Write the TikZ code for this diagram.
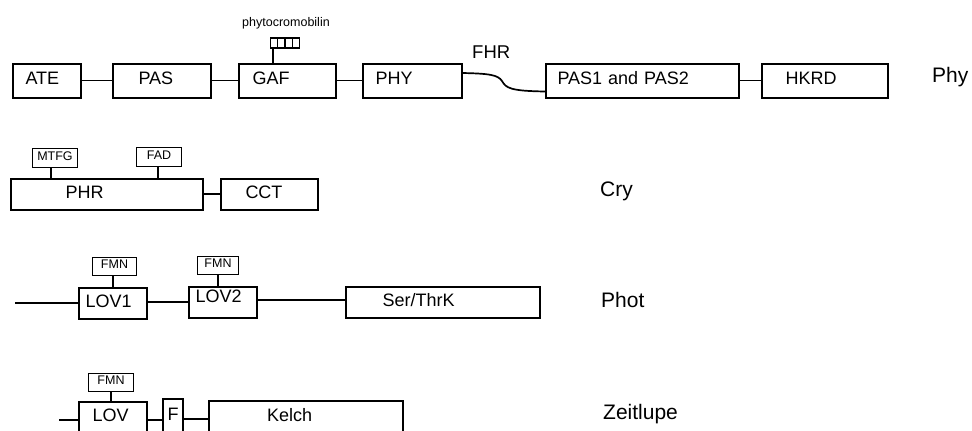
\documentclass[tikz,border=0pt]{standalone}
\usepackage{fontspec}
\setmainfont{Liberation Sans}
\usetikzlibrary{calc}
\begin{document}
\begin{tikzpicture}[x=1pt,y=-1pt,
  dom/.style={draw, line width=2pt, rectangle, inner ysep=0pt, outer sep=0pt, align=left, text height=13pt, text depth=4.1pt, font=\fontsize{18}{20}\selectfont},
  tag/.style={draw, line width=1.5pt, rectangle, inner sep=0pt, outer sep=0pt, text height=9pt, text depth=4.5pt, font=\fontsize{12.5}{14}\selectfont},
  link/.style={line width=1.7pt},
  lbl/.style={anchor=base west, inner sep=0pt, font=\fontsize{21}{24}\selectfont},
  small/.style={anchor=base west, inner sep=0pt, font=\fontsize{12.5}{14}\selectfont}]
\useasboundingbox (0,0) rectangle (972,431);
\clip (0,0) rectangle (972,431);

% ---------- Phy ----------
\node[dom, minimum width=68pt, minimum height=34pt, text width=42pt, inner xsep=13pt] (ATE) at (46.5,80.5) {ATE};
\node[dom, minimum width=98pt, minimum height=34pt, text width=46pt, inner xsep=26pt] (PAS) at (161.5,80.5) {PAS};
\node[dom, minimum width=97pt, minimum height=34pt, text width=69pt, inner xsep=14pt] (GAF) at (287,80.5) {GAF};
\node[dom, minimum width=99pt, minimum height=34pt, text width=73pt, inner xsep=13pt] (PHY) at (412,80.5) {PHY};
\node[dom, minimum width=193pt, minimum height=34pt, text width=169pt, inner xsep=12pt] (PAS12) at (642,80.5) {PAS1 and PAS2};
\node[dom, minimum width=126pt, minimum height=34pt, text width=78pt, inner xsep=24pt] (HKRD) at (824.5,80.5) {HKRD};
\node[draw, line width=1.5pt, rectangle, inner sep=0pt, outer sep=0pt, minimum width=29pt, minimum height=10pt] (chromo) at (285,43) {};
\foreach \f in {0.25,0.5,0.75}
  \draw[line width=1.3pt] ($(chromo.north west)!\f!(chromo.north east)$) -- ($(chromo.south west)!\f!(chromo.south east)$);
\node[small] (phyto) at (242,26) {phytocromobilin};
\node[anchor=base west, inner sep=0pt, font=\fontsize{18.5}{20}\selectfont] (FHR) at (472,58.5) {FHR};
\node[lbl] (Phy) at (932,82.5) {Phy};

\draw[link] (ATE.east) -- (PAS.west);
\draw[link] (PAS.east) -- (GAF.west);
\draw[link] (GAF.east) -- (PHY.west);
\draw[link] (PAS12.east) -- (HKRD.west);
\draw[link] ([xshift=-12pt]chromo.south) -- ([xshift=-12pt]chromo.south |- GAF.north);
\draw[link] ([yshift=7.5pt]PHY.east) .. controls (490,73.5) and (498,75) .. (502,81)
  .. controls (506,88) and (510,91) .. ([yshift=-11pt]PAS12.west);

% ---------- Cry ----------
\node[dom, minimum width=192pt, minimum height=31pt, text width=82pt, inner xsep=55pt] (PHR) at (106.5,194) {PHR};
\node[dom, minimum width=97pt, minimum height=31pt, text width=47pt, inner xsep=25pt] (CCT) at (269,194) {CCT};
\node[tag, minimum width=45pt, minimum height=19pt] (MTFG) at (55,158) {MTFG};
\node[tag, minimum width=45pt, minimum height=19pt] (FAD) at (159,157) {FAD};
\node[lbl] (Cry) at (600,196.5) {Cry};
\draw[link] (PHR.east) -- (CCT.west);
\draw[link] ([xshift=-4pt]MTFG.south) -- ([xshift=-4pt]MTFG.south |- PHR.north);
\draw[link] ([xshift=-1pt]FAD.south) -- ([xshift=-1pt]FAD.south |- PHR.north);

% ---------- Phot ----------
\node[dom, minimum width=68pt, minimum height=31pt, text width=54pt, inner xsep=7pt] (LOVa) at (112.5,303) {LOV1};
\node[dom, minimum width=68pt, minimum height=31pt, text width=54pt, inner xsep=7pt] (LOVb) at (222.5,302) {\raisebox{4pt}[\height][\depth]{LOV2}};
\node[dom, minimum width=194pt, minimum height=31pt, text width=120pt, inner xsep=37pt] (SER) at (442.5,302) {Ser/ThrK};
\node[tag, minimum width=44pt, minimum height=18pt] (FMNa) at (114.5,266.5) {FMN};
\node[tag, minimum width=41pt, minimum height=18pt] (FMNb) at (218,265.5) {FMN};
\node[lbl] (Phot) at (601,307.5) {Phot};
\coordinate (p0) at (15,303);
\draw[link] (p0) -- (LOVa.west);
\draw[link] (LOVb.west -| LOVa.east) -- (LOVb.west);
\draw[link] ([yshift=2pt]LOVb.east) -- ([yshift=2pt]SER.west);
\draw[link] ([xshift=-1.5pt]FMNa.south) -- ([xshift=-1.5pt]FMNa.south |- LOVa.north);
\draw[link] (FMNb.south) -- (FMNb.south |- LOVb.north);

% ---------- Zeitlupe ----------
\node[dom, minimum width=68pt, minimum height=31pt, text width=40pt, inner xsep=14pt] (LOVc) at (112.5,417.5) {LOV};
\node[dom, align=center, minimum width=20pt, minimum height=34pt, inner xsep=0pt] (F) at (173,416) {F};
\node[dom, minimum width=194pt, minimum height=32pt, text width=78pt, inner xsep=58pt] (KEL) at (306,417) {Kelch};
\node[tag, minimum width=45pt, minimum height=18pt] (FMNc) at (111,382.5) {FMN};
\node[lbl] (Zeit) at (603,419.5) {Zeitlupe};
\coordinate (z0) at (59,420);
\draw[link] (z0) -- (z0 -| LOVc.west);
\draw[link] (z0 -| LOVc.east) -- (z0 -| F.west);
\draw[link] ([yshift=1pt]z0 -| F.east) -- ([yshift=1pt]z0 -| KEL.west);
\draw[link] (FMNc.south) -- (FMNc.south |- LOVc.north);
\end{tikzpicture}
\end{document}
